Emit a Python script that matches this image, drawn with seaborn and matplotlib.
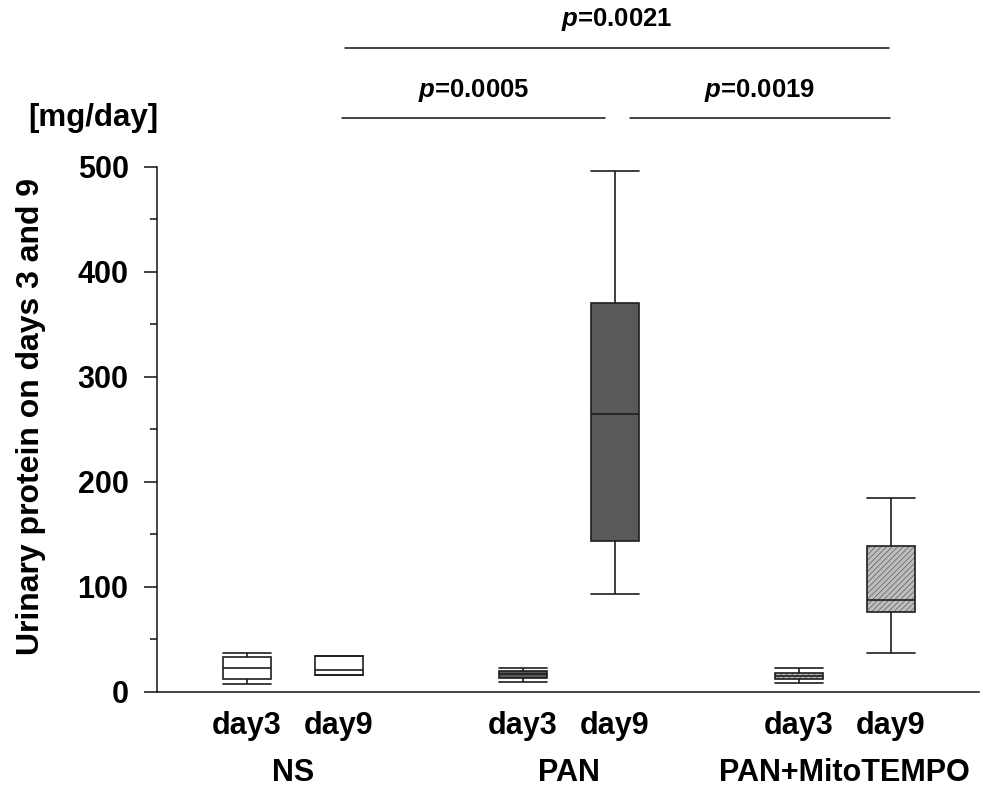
import matplotlib
matplotlib.use("Agg")
import matplotlib.pyplot as plt
import matplotlib.transforms as mtransforms
import numpy as np
import pandas as pd
import seaborn as sns

# five-number summaries: min, q1, median, q3, max  [mg/day]
groups = ["NS", "PAN", "PAN+MitoTEMPO"]
day_labels = ["day3", "day9", "day3", "day9", "day3", "day9"]
positions = [0, 1, 3, 4, 6, 7]
ns_day3 = [7.6, 12.1, 22.3, 32.7, 36.6]
ns_day9 = [15.6, 15.6, 20.4, 34.3, 34.3]
pan_day3 = [9.0, 13.0, 17.0, 20.0, 23.0]
pan_day9 = [93.0, 143.5, 264.2, 370.5, 495.5]
mito_day3 = [8.0, 11.8, 15.0, 18.1, 22.3]
mito_day9 = [37.1, 76.2, 87.0, 138.8, 184.8]
box_colors = ["white", "#595959", "#bdbdbd"]

# significance brackets: x from, x to, height, p value
bracket_x1 = [1.06, 1.03, 4.16]
bracket_x2 = [6.98, 3.89, 6.99]
bracket_y = [613, 546, 546]
p_values = ["0.0021", "0.0005", "0.0019"]

all_boxes = [ns_day3, ns_day9, pan_day3, pan_day9, mito_day3, mito_day9]
rows = []
for i, vals in enumerate(all_boxes):
    for v in vals:
        rows.append({"group": groups[i // 2], "pos": positions[i], "value": v})
df = pd.DataFrame(rows)

sns.set_style("ticks")
plt.rcParams["font.family"] = ["Liberation Sans", "DejaVu Sans"]
plt.rcParams["font.weight"] = "bold"
plt.rcParams["text.color"] = "black"
plt.rcParams["xtick.color"] = "black"
plt.rcParams["ytick.color"] = "black"
plt.rcParams["mathtext.fontset"] = "custom"
plt.rcParams["mathtext.it"] = "Liberation Sans:italic:bold"
plt.rcParams["mathtext.rm"] = "Liberation Sans:bold"
plt.rcParams["hatch.linewidth"] = 0.3

fig = plt.figure(figsize=(9.89, 7.9), dpi=100)
ax = fig.add_axes([0.1587, 0.1244, 0.8312, 0.6646])

for g, c in zip(groups, box_colors):
    n_before = len(ax.patches)
    sns.boxplot(data=df[df.group == g], x="pos", y="value", native_scale=True,
                width=0.52, color=c, saturation=1, linecolor="#1e1e1e",
                linewidth=1.2, whis=(0, 100), capwidths=0.52, ax=ax)
    if g == "PAN+MitoTEMPO":
        for p in ax.patches[n_before:]:
            p.set_hatch("//////")

ax.set_xlim(-0.98, 7.96)
ax.set_ylim(0, 500)
ax.set_yticks(np.arange(0, 501, 100))
ax.set_yticks(np.arange(50, 500, 100), minor=True)
ax.set_xticks(positions)
ax.set_xticklabels(day_labels)
ax.tick_params(axis="x", length=0, pad=14, labelsize=22, labelcolor="black")
ax.tick_params(axis="y", which="major", length=9.4, width=1.1, pad=11,
               labelsize=22, labelcolor="black", color="#111111")
ax.tick_params(axis="y", which="minor", length=5, width=1.1, color="#111111")
for lab in ax.get_xticklabels() + ax.get_yticklabels():
    lab.set_fontweight("bold")
sns.despine(ax=ax)
for s in ["left", "bottom"]:
    ax.spines[s].set_linewidth(1.1)
    ax.spines[s].set_color("#111111")
ax.set_xlabel("")
ax.set_ylabel("")

trans = mtransforms.blended_transform_factory(ax.transData, ax.transAxes)
for i, g in enumerate(groups):
    xc = (positions[2 * i] + positions[2 * i + 1]) / 2
    ax.text(xc, -0.155, g, transform=trans, ha="center", va="center",
            fontsize=22, fontweight="bold", color="black")

for x1, x2, y, pv in zip(bracket_x1, bracket_x2, bracket_y, p_values):
    ax.plot([x1, x2], [y, y], color="#111111", lw=1.1, clip_on=False)
    ax.text((x1 + x2) / 2, y + 27, "$p$=" + pv, ha="center", va="center",
            fontsize=18.5, fontweight="bold", color="black")

fig.text(0.094, 0.8506, "[mg/day]", ha="center", va="center",
         fontsize=22.5, fontweight="bold", color="black")
fig.text(0.031, 0.473, "Urinary protein on days 3 and 9", rotation=90,
         ha="center", va="center", fontsize=23, fontweight="bold", color="black")

fig.savefig("out.png", dpi=100)
